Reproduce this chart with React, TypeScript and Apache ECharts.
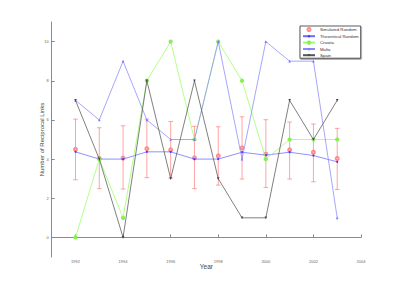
import React, { useEffect, useRef } from "react";
import * as echarts from "echarts";

const years = [1992, 1993, 1994, 1995, 1996, 1997, 1998, 1999, 2000, 2001, 2002, 2003];
const simMean = [4.5, 4.03, 4.05, 4.53, 4.47, 4.06, 4.16, 4.57, 4.25, 4.47, 4.35, 4.03];
const simLow = [2.94, 2.49, 2.47, 3.05, 3.03, 2.49, 2.67, 2.98, 2.55, 2.98, 2.84, 2.45];
const simHigh = [6.04, 5.6, 5.7, 6.04, 5.92, 5.67, 5.65, 6.16, 6.01, 5.89, 5.79, 5.57];
const theoretical = [4.37, 4.0, 4.0, 4.37, 4.37, 4.0, 4.0, 4.35, 4.2, 4.35, 4.18, 3.86];
const croatia = [0, 4, 1, 8, 10, 5, 10, 8, 4, 5, 5, 5];
const malta = [7, 6, 9, 6, 5, 5, 10, 4, 10, 9, 9, 1];
const spain = [7, 4, 0, 8, 3, 8, 3, 1, 1, 7, 5, 7];
const xTicks = [1992, 1994, 1996, 1998, 2000, 2002, 2004];
const yTicks = [0, 2, 4, 6, 8, 10];

const FONT = "Liberation Sans, Arial, sans-serif";

export default function App() {
  const ref = useRef<HTMLDivElement>(null);
  useEffect(() => {
    if (!ref.current) return;
    const chart = echarts.init(ref.current, undefined, { renderer: "svg" });
    const pair = (arr: number[]) => years.map((y, i) => [y, arr[i]]);
    const axisColor = "#8a8a8a";
    chart.setOption({
      animation: false,
      backgroundColor: "#ffffff",
      textStyle: { fontFamily: FONT },
      grid: { left: 51.7, right: 38, top: 22, bottom: 33, containLabel: false },
      legend: {
        orient: "vertical",
        left: 300,
        top: 26,
        padding: [1, 2, 1, 2],
        itemWidth: 12,
        itemHeight: 3,
        itemGap: 2.2,
        backgroundColor: "#ffffff",
        borderColor: "#333333",
        borderWidth: 0.8,
        shadowColor: "rgba(0,0,0,0.45)",
        shadowOffsetX: 0.5,
        shadowOffsetY: 1,
        shadowBlur: 0,
        textStyle: { fontSize: 4.3, color: "#333", fontFamily: FONT, padding: [0, 0, 0, 0] },
        data: ["Simulated Random", "Theoretical Random", "Croatia", "Malta", "Spain"],
      },
      xAxis: {
        type: "value",
        min: 1991,
        max: 2004,
        name: "Year",
        nameLocation: "middle",
        nameGap: 6,
        nameMoveOverlap: false,
        nameTextStyle: { fontSize: 6.5, color: "#444", fontFamily: FONT, verticalAlign: "top" },
        axisLine: { lineStyle: { color: axisColor, width: 1 } },
        axisTick: { inside: true, length: 3, lineStyle: { color: axisColor }, customValues: xTicks },
        axisLabel: { fontSize: 4, color: "#666", margin: 2.5, customValues: xTicks, formatter: (v: number) => String(v) },
        splitLine: { show: false },
      },
      yAxis: {
        type: "value",
        min: -1,
        max: 11,
        name: "Number of Reciprocal Links",
        nameLocation: "middle",
        nameGap: 7,
        nameMoveOverlap: false,
        nameRotate: 90,
        nameTextStyle: { fontSize: 6, color: "#444", fontFamily: FONT },
        axisLine: { show: true, lineStyle: { color: axisColor, width: 1 } },
        axisTick: { show: true, inside: true, length: 3, lineStyle: { color: axisColor }, customValues: yTicks },
        axisLabel: { fontSize: 4, color: "#666", margin: 3, customValues: yTicks, formatter: (v: number) => String(v) },
        splitLine: { show: false },
      },
      series: [
        {
          name: "errbars",
          type: "custom",
          data: years.map((y, i) => [y, simLow[i], simHigh[i]]),
          encode: { x: 0, y: [1, 2] },
          z: 1,
          renderItem: (params: any, api: any) => {
            const x = api.value(0);
            const lo = api.coord([x, api.value(1)]);
            const hi = api.coord([x, api.value(2)]);
            const c = 2.3;
            const style = { stroke: "rgba(255,110,110,0.7)", lineWidth: 0.9 };
            return {
              type: "group",
              children: [
                { type: "line", shape: { x1: lo[0], y1: lo[1], x2: hi[0], y2: hi[1] }, style },
                { type: "line", shape: { x1: lo[0] - c, y1: lo[1], x2: lo[0] + c, y2: lo[1] }, style },
                { type: "line", shape: { x1: hi[0] - c, y1: hi[1], x2: hi[0] + c, y2: hi[1] }, style },
              ],
            };
          },
        },
        {
          name: "Simulated Random",
          type: "scatter",
          data: pair(simMean),
          symbol: "emptyCircle",
          symbolSize: 3,
          itemStyle: { color: "#ff7070", borderColor: "#ff6a6a", borderWidth: 0.7 },
          z: 3,
        },
        {
          name: "Theoretical Random",
          type: "line",
          data: pair(theoretical),
          symbol: "circle",
          symbolSize: 2,
          lineStyle: { color: "#6b6bff", width: 0.75 },
          itemStyle: { color: "#3a3aff" },
          z: 4,
        },
        {
          name: "Croatia",
          type: "line",
          data: pair(croatia),
          symbol: "emptyCircle",
          symbolSize: 2.3,
          lineStyle: { color: "#99ff66", width: 0.75 },
          itemStyle: { color: "#88ee55", borderWidth: 0.6 },
          z: 5,
        },
        {
          name: "Malta",
          type: "line",
          data: pair(malta),
          symbol: "triangle",
          symbolSize: 2.6,
          lineStyle: { color: "#8888ff", width: 0.75 },
          itemStyle: { color: "#7777ff" },
          z: 6,
        },
        {
          name: "Spain",
          type: "line",
          data: pair(spain),
          symbol: "triangle",
          symbolRotate: 180,
          symbolSize: 2.6,
          lineStyle: { color: "#555555", width: 0.75 },
          itemStyle: { color: "#444444" },
          z: 7,
        },
      ],
    });
    return () => chart.dispose();
  }, []);
  return <div ref={ref} style={{ width: 399, height: 290, position: "absolute", left: 0, top: 0 }} />;
}
